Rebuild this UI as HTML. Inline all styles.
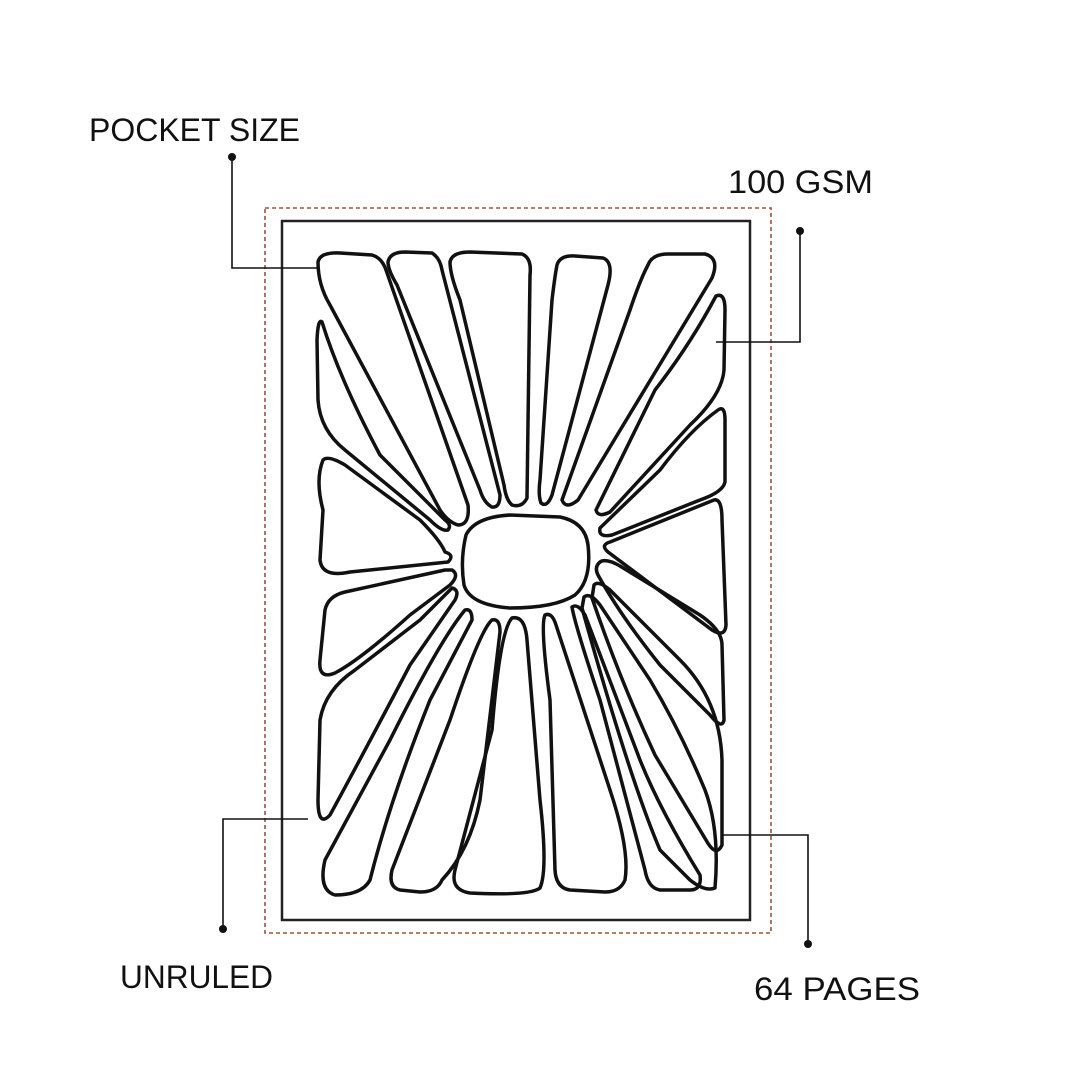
<!DOCTYPE html>
<html><head><meta charset="utf-8"><style>
body{margin:0;background:#fff;}
svg{display:block}
text{font-family:"Liberation Sans",sans-serif;fill:#111;}
</style></head><body>
<svg width="1080" height="1080" viewBox="0 0 1080 1080">
<rect width="1080" height="1080" fill="#fff"/>
<rect x="265" y="208" width="506" height="725" fill="none" stroke="#a0523a" stroke-width="1.6" stroke-dasharray="4,3"/>
<rect x="282" y="221" width="468" height="699" fill="none" stroke="#222" stroke-width="2.5"/>
<g fill="none" stroke="#111" stroke-width="3.5" stroke-linejoin="round">
<path d="M318,262 Q320,252 340,253 L372,255 Q382,258 386,270 L468,505 Q470,525 458,525 Q448,522 440,510 L330,305 Q318,285 318,262Z"/>
<path d="M388,262 Q390,252 405,252 L432,253 Q440,258 442,270 L500,495 Q500,508 492,507 Q484,503 480,490 L397,285 Q388,270 388,262Z"/>
<path d="M450,262 Q452,252 470,252 L522,254 Q532,258 530,275 L527,498 Q522,508 512,505 Q506,500 504,485 L460,300 Q450,275 450,262Z"/>
<path d="M557,265 Q560,255 575,256 L603,258 Q614,262 608,285 L552,495 Q547,508 541,503 Q538,495 540,480 L552,300 Q555,275 557,265Z"/>
<path d="M648,265 Q652,254 668,254 L705,254 Q720,258 712,278 L578,500 Q566,510 562,500 L630,310 Q640,280 648,265Z"/>
<path d="M716,296 Q725,292 725,310 L724,370 Q722,395 690,425 L610,512 Q598,518 596,510 L655,390 Q690,345 716,296Z"/>
<path d="M718,410 Q725,405 725,420 L725,482 Q723,492 700,500 L612,535 Q598,538 600,528 L660,470 Q690,430 718,410Z"/>
<path d="M714,500 Q722,498 722,520 L726,625 Q725,638 712,630 L608,552 Q600,545 610,542Z"/>
<path d="M600,562 Q606,558 620,566 L700,615 Q722,630 722,645 L724,720 Q722,730 710,715 L660,665 Q620,615 598,575 Q594,567 600,562Z"/>
<path d="M594,585 Q598,580 610,590 L680,660 Q720,700 722,760 L722,845 Q716,858 706,840 L655,755 Q620,680 592,598Z"/>
<path d="M584,597 Q590,592 600,605 L650,680 Q680,730 705,790 Q720,830 715,888 Q705,892 690,880 L660,850 Q630,780 582,608Z"/>
<path d="M572,607 Q578,603 585,615 L640,760 Q660,810 700,875 Q702,890 690,890 L660,890 Q648,888 645,870 L600,700 Q575,625 572,607Z"/>
<path d="M545,615 Q552,612 556,625 L610,790 Q630,850 625,880 Q620,892 605,892 L570,890 Q556,888 555,870 L550,700 Q540,625 545,615Z"/>
<path d="M512,618 Q525,615 527,640 L540,800 Q548,870 540,888 Q530,896 470,893 Q450,890 455,870 L492,730 Q500,630 512,618Z"/>
<path d="M492,620 Q500,618 500,632 L480,800 Q470,850 442,880 Q437,892 420,892 L400,890 Q388,887 392,870 L450,720 Q480,630 492,620Z"/>
<path d="M465,610 Q472,608 472,620 L430,700 Q390,800 370,880 Q362,895 335,895 Q318,890 325,860 L390,740 Q440,640 465,610Z"/>
<path d="M452,588 Q460,590 455,600 L410,665 Q360,760 330,815 Q318,828 318,800 L320,720 Q325,690 355,670 L420,620 Q445,595 452,588Z"/>
<path d="M452,570 Q460,575 450,585 L410,615 Q360,660 335,673 Q318,680 320,660 L325,610 Q328,596 345,592 L445,570Z"/>
<path d="M445,552 Q455,555 448,562 L350,572 Q322,578 320,560 L323,510 Q315,480 323,460 Q328,455 345,465 L420,520 Q440,540 445,552Z"/>
<path d="M448,530 Q452,525 445,520 L380,455 Q340,380 322,322 Q318,318 317,340 L318,400 Q320,430 345,450 L430,520 Q442,532 448,530Z"/>
<path d="M466,535 Q475,517 510,515 L560,517 Q585,522 588,545 Q592,580 575,595 Q555,608 510,608 Q470,605 464,585 Q460,560 466,535Z"/>
</g>
<g stroke="#111" stroke-width="1.6" fill="none">
<polyline points="232,157 232,268 318,268"/>
<polyline points="800,231 800,342 716,342"/>
<polyline points="223,929 223,819 308,819"/>
<polyline points="808,944 808,835 722,835"/>
</g>
<g fill="#111">
<circle cx="232" cy="157" r="4"/><circle cx="800" cy="231" r="4"/>
<circle cx="223" cy="929" r="4"/><circle cx="808" cy="944" r="4"/>
</g>
<text x="89" y="141" font-size="32" textLength="211" lengthAdjust="spacingAndGlyphs">POCKET SIZE</text>
<text x="728" y="193" font-size="32" textLength="145" lengthAdjust="spacingAndGlyphs">100 GSM</text>
<text x="120" y="988" font-size="32" textLength="153" lengthAdjust="spacingAndGlyphs">UNRULED</text>
<text x="754" y="1000" font-size="32" textLength="166" lengthAdjust="spacingAndGlyphs">64 PAGES</text>
</svg>
</body></html>
